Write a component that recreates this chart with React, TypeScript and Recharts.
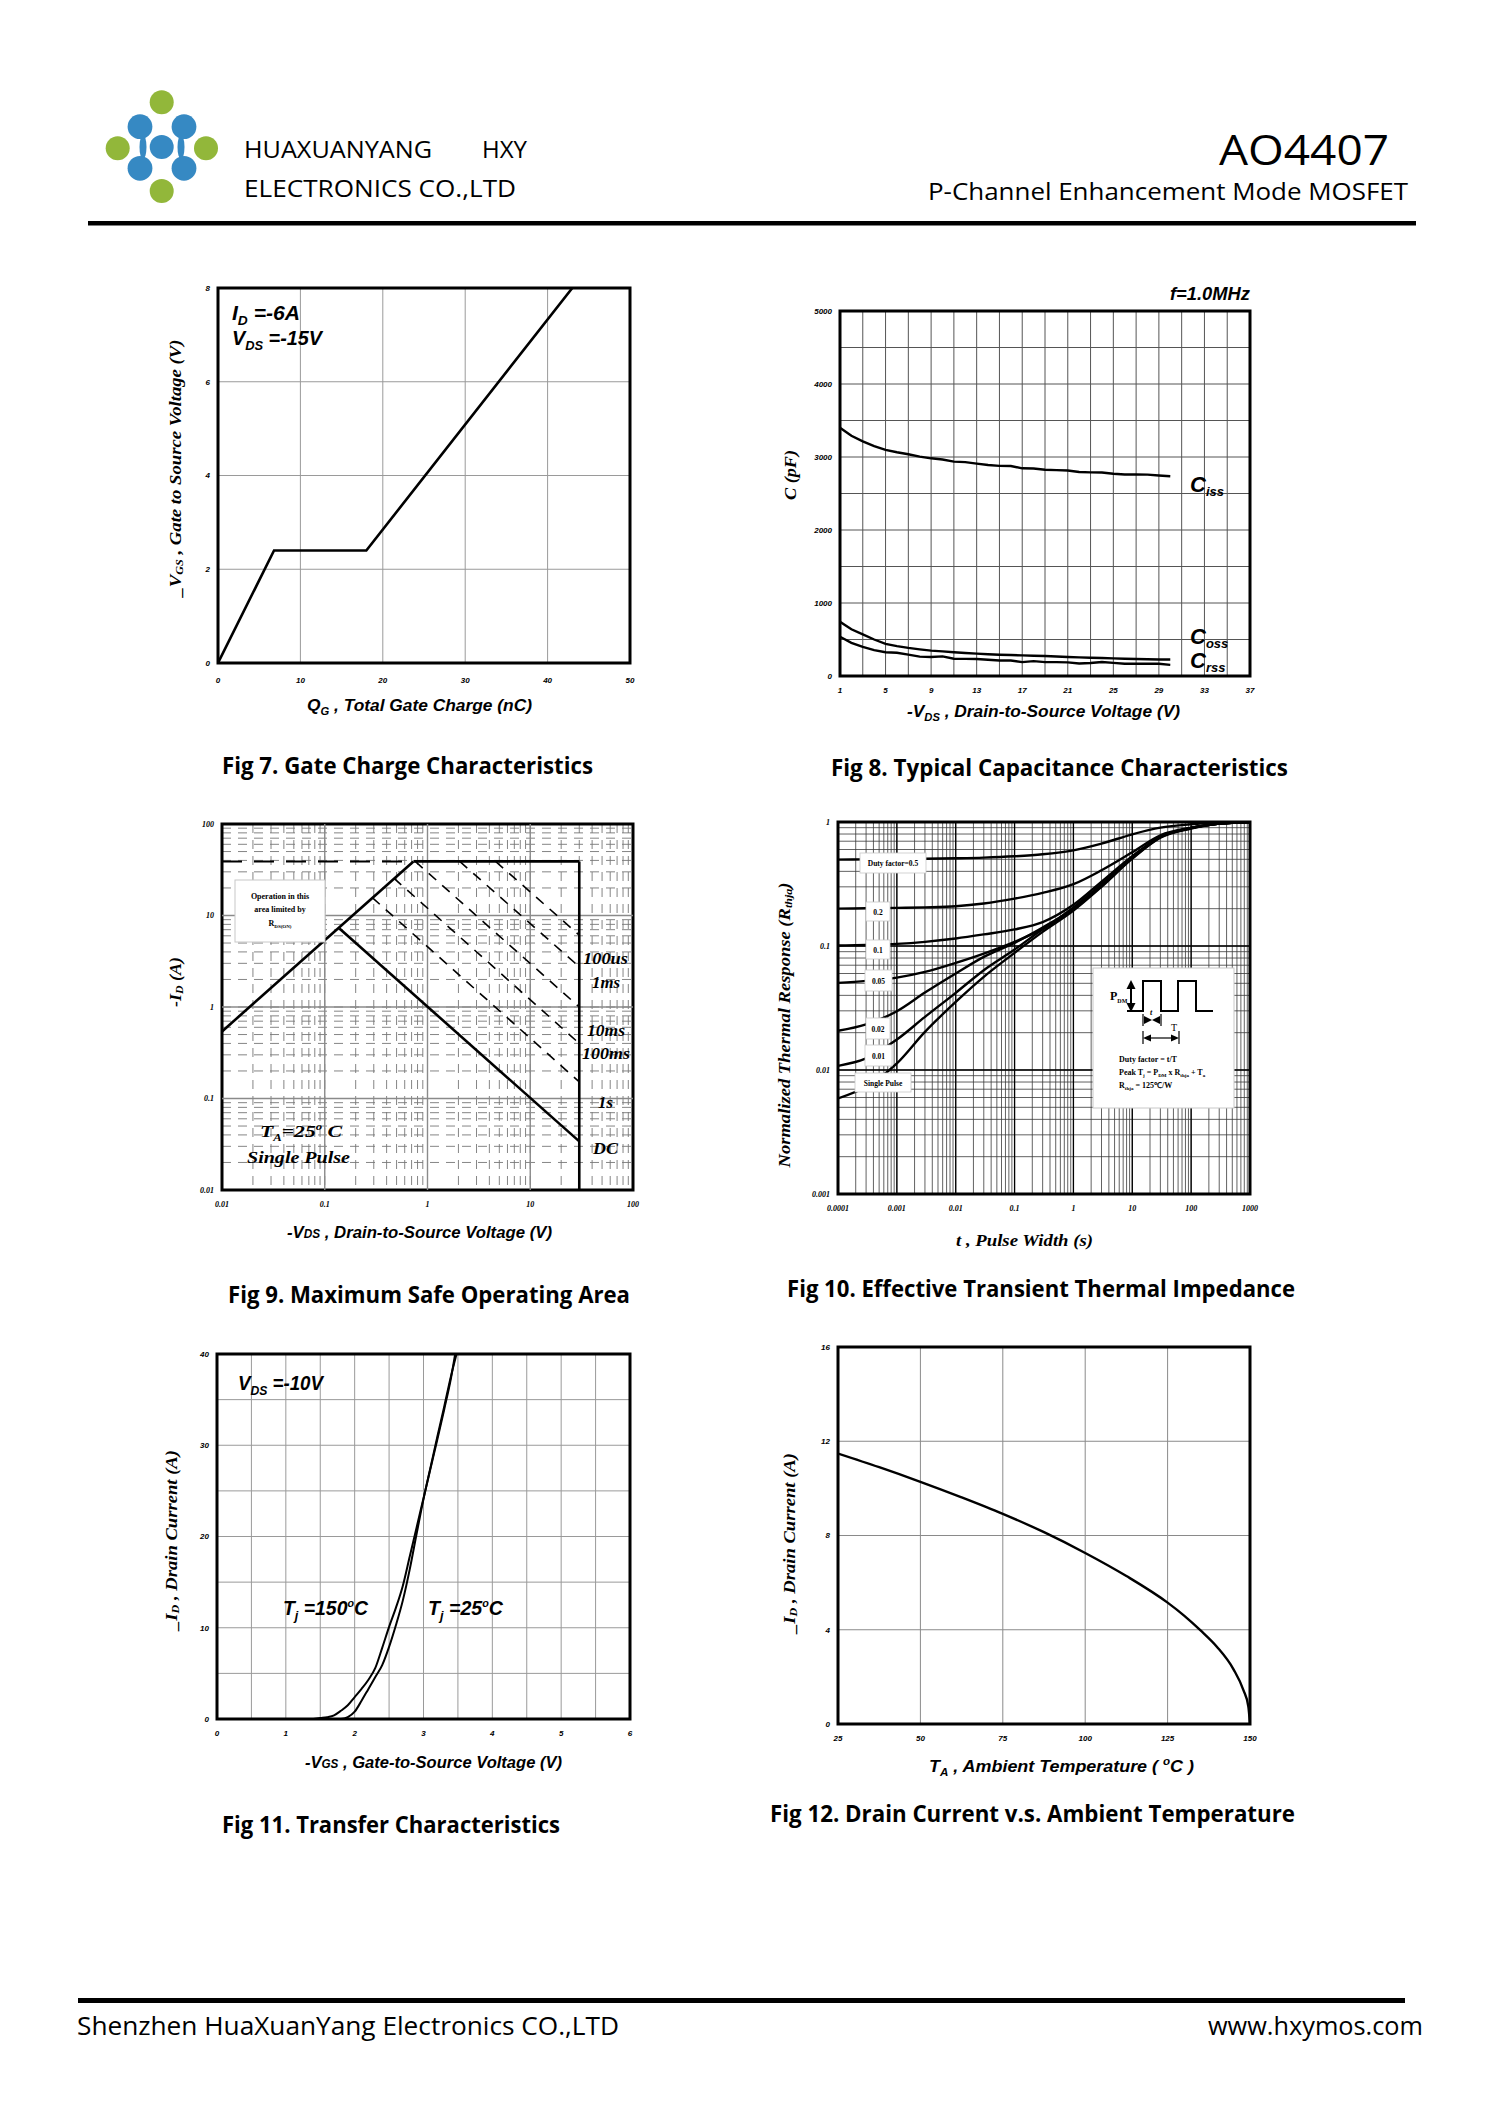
import React from 'react';
import { LineChart, Line, XAxis, YAxis, CartesianGrid, ReferenceLine, ReferenceArea } from 'recharts';

/* ---------- Fig 7: Gate charge ---------- */
const gateChargeQ = [0, 6.8, 18, 43];
const gateChargeVgs = [0, 2.4, 2.4, 8];
const gateXTicks = [0, 10, 20, 30, 40, 50];
const gateYTicks = [0, 2, 4, 6, 8];

/* ---------- Fig 8: Capacitance ---------- */
const capVds = [1, 2, 3, 4, 5, 6, 7, 8, 9, 10, 11, 12, 13, 14, 15, 16, 17, 18, 19, 20, 21, 22, 23, 24, 25, 26, 27, 28, 29, 30];
const capCiss = [3400, 3290, 3214, 3150, 3098, 3065, 3038, 3005, 2982, 2965, 2936, 2930, 2910, 2890, 2878, 2876, 2845, 2843, 2825, 2820, 2815, 2795, 2790, 2788, 2770, 2760, 2760, 2758, 2746, 2736];
const capCoss = [742, 640, 570, 500, 440, 410, 385, 365, 348, 338, 325, 315, 306, 298, 292, 287, 283, 278, 274, 267, 260, 255, 250, 246, 241, 236, 232, 230, 227, 227];
const capCrss = [538, 455, 399, 355, 325, 318, 292, 265, 260, 269, 237, 235, 232, 222, 213, 212, 190, 204, 190, 190, 186, 172, 178, 192, 180, 167, 167, 168, 167, 153];
const capXTicks = [1, 3, 5, 7, 9, 11, 13, 15, 17, 19, 21, 23, 25, 27, 29, 31, 33, 35, 37];
const capXLabels = [1, 5, 9, 13, 17, 21, 25, 29, 33, 37];
const capYTicks = [0, 500, 1000, 1500, 2000, 2500, 3000, 3500, 4000, 4500, 5000];
const capYLabels = [0, 1000, 2000, 3000, 4000, 5000];

/* ---------- Fig 9: Safe operating area ---------- */
const soaDecades = [0.01, 0.1, 1, 10, 100];
const soaDecadeLabels = ['0.01', '0.1', '1', '10', '100'];
const minorSteps = [2, 3, 4, 5, 6, 7, 8, 9];
const soaRdsV = [0.01, 0.73];
const soaRdsI = [0.54, 39];
const soaLimitDashV = [0.01, 0.73];
const soaLimitDashI = [39, 39];
const soaLimitV = [0.73, 30];
const soaLimitI = [39, 39];
const soaBvV = [30, 30];
const soaBvI = [39, 0.01];
const soaDcV = [0.139, 30];
const soaDcI = [7.2, 0.034];
const soa100usV = [4.6, 30];
const soa100usI = [39, 6.1];
const soa1msV = [2.06, 30];
const soa1msI = [39, 2.75];
const soa10msV = [0.76, 30];
const soa10msI = [39, 1.0];
const soa100msV = [0.47, 30];
const soa100msI = [25.6, 0.4];
const soa1sV = [0.29, 30];
const soa1sI = [15.7, 0.152];

/* ---------- Fig 10: Transient thermal impedance ---------- */
const tDecades = [0.0001, 0.001, 0.01, 0.1, 1, 10, 100, 1000];
const tDecadeLabels = ['0.0001', '0.001', '0.01', '0.1', '1', '10', '100', '1000'];
const rDecades = [0.001, 0.01, 0.1, 1];
const rDecadeLabels = ['0.001', '0.01', '0.1', '1'];
const tPulse = [0.0001, 0.0003, 0.001, 0.003, 0.01, 0.03, 0.1, 0.3, 1, 3, 10, 30, 100, 300, 1000];
const zDuty05 = [0.497, 0.5, 0.503, 0.506, 0.51, 0.516, 0.529, 0.549, 0.591, 0.669, 0.796, 0.9, 0.958, 0.988, 1.0];
const zDuty02 = [0.2, 0.2015, 0.203, 0.205, 0.209, 0.22, 0.241, 0.268, 0.315, 0.408, 0.57, 0.781, 0.9, 0.97, 1.0];
const zDuty01 = [0.101, 0.102, 0.104, 0.108, 0.115, 0.124, 0.136, 0.156, 0.215, 0.33, 0.53, 0.757, 0.895, 0.97, 1.0];
const zDuty005 = [0.0504, 0.0523, 0.0556, 0.0618, 0.0731, 0.0869, 0.108, 0.138, 0.205, 0.315, 0.522, 0.757, 0.895, 0.97, 1.0];
const zDuty002 = [0.0207, 0.0233, 0.0298, 0.0421, 0.06, 0.0817, 0.106, 0.141, 0.2, 0.308, 0.516, 0.757, 0.895, 0.97, 1.0];
const zDuty001 = [0.0108, 0.0124, 0.0176, 0.0268, 0.0419, 0.0638, 0.0936, 0.1365, 0.197, 0.305, 0.512, 0.755, 0.892, 0.97, 1.0];
const zSingle = [0.0059, 0.00732, 0.0113, 0.0203, 0.0354, 0.0564, 0.088, 0.13, 0.193, 0.3, 0.506, 0.748, 0.884, 0.97, 1.0];

/* ---------- Fig 11: Transfer ---------- */
const vgs150 = [1.4, 1.5, 1.6, 1.7, 1.8, 1.9, 2.0, 2.1, 2.2, 2.3, 2.4, 2.5, 2.6, 2.7, 2.8, 2.9, 3.0, 3.1, 3.2, 3.3, 3.4, 3.46];
const id150 = [0, 0.1, 0.2, 0.4, 0.9, 1.5, 2.4, 3.3, 4.3, 5.6, 7.8, 10.1, 12.2, 14.6, 17.8, 21.0, 24.2, 27.4, 30.6, 33.9, 37.4, 40];
const vgs25 = [1.4, 1.8, 1.9, 2.0, 2.1, 2.2, 2.3, 2.4, 2.5, 2.6, 2.7, 2.8, 2.9, 3.0, 3.1, 3.2, 3.3, 3.4, 3.48];
const id25 = [0, 0, 0.2, 0.8, 2.0, 3.3, 4.6, 5.9, 7.9, 10.3, 13.0, 16.4, 20.3, 24.1, 27.5, 30.9, 34.2, 37.6, 40];
const trXTicks = [0, 0.5, 1, 1.5, 2, 2.5, 3, 3.5, 4, 4.5, 5, 5.5, 6];
const trYTicks = [0, 5, 10, 15, 20, 25, 30, 35, 40];

/* ---------- Fig 12: Drain current vs ambient ---------- */
const ambientT = [25, 37.5, 50, 62.5, 75, 87.5, 100, 112.5, 125, 130, 135, 140, 145, 148, 149.5, 150];
const ambientId = [11.48, 10.9, 10.28, 9.62, 8.92, 8.14, 7.26, 6.28, 5.15, 4.6, 3.97, 3.27, 2.32, 1.44, 0.74, 0];
const ambXTicks = [25, 50, 75, 100, 125, 150];
const ambYTicks = [0, 4, 8, 12, 16];

/* ---------- helpers ---------- */
const pairs = (xs: number[], ys: number[]) => xs.map((x, i) => ({ x, y: ys[i] }));
const gridTicks = (decades: number[]) =>
  decades.flatMap((d, i) => (i < decades.length - 1 ? [d, ...minorSteps.map((m) => m * d)] : [d]));
const decadeFmt = (decades: number[], labels: string[]) => (v: number) => {
  const i = decades.indexOf(v);
  return i >= 0 ? labels[i] : '';
};

const SANS = "'Open Sans', 'Noto Sans', sans-serif";
const ARIAL = "'Liberation Sans', Arial, sans-serif";
const SERIF = "'Liberation Serif', 'Times New Roman', serif";

const sansTick = { fontSize: 8, fontStyle: 'italic', fontWeight: 700, fill: '#000', fontFamily: ARIAL };
const serifTick = { fontSize: 8, fontStyle: 'italic', fontWeight: 700, fill: '#000', fontFamily: SERIF };

type Frame = { L: number; T: number; R: number; B: number };
const F7: Frame = { L: 218, T: 288, R: 630, B: 663 };
const F8: Frame = { L: 840, T: 311, R: 1250, B: 676 };
const F9: Frame = { L: 222, T: 824, R: 633, B: 1190 };
const F10: Frame = { L: 838, T: 822, R: 1250, B: 1194 };
const F11: Frame = { L: 217, T: 1354, R: 630, B: 1719 };
const F12: Frame = { L: 838, T: 1347, R: 1250, B: 1724 };

const YW = 60;
const MT = 10;
const MR = 12;
const XH = 40;

function Panel({ f, children }: { f: Frame; children: React.ReactNode }) {
  const width = f.R - f.L + YW + MR;
  const height = f.B - f.T + MT + XH;
  return (
    <div style={{ position: 'absolute', left: f.L - YW, top: f.T - MT, width, height }}>
      <LineChart width={width} height={height} margin={{ top: MT, right: MR, bottom: 0, left: 0 }}>
        {children}
      </LineChart>
    </div>
  );
}

type TP = {
  x: number;
  y: number;
  size: number;
  len?: number;
  family?: string;
  weight?: number;
  italic?: boolean;
  anchor?: 'start' | 'middle' | 'end';
  rot?: boolean;
  children: React.ReactNode;
};
function T({ x, y, size, len, family = SANS, weight = 400, italic = false, anchor = 'start', rot = false, children }: TP) {
  const p: any = {
    x,
    y,
    fontSize: size,
    fontFamily: family,
    fontWeight: weight,
    fontStyle: italic ? 'italic' : 'normal',
    textAnchor: anchor,
    fill: '#000',
  };
  if (len) {
    p.textLength = len;
    p.lengthAdjust = 'spacingAndGlyphs';
  }
  if (rot) {
    p.transform = `rotate(-90 ${x} ${y})`;
    p.dominantBaseline = 'central';
  }
  return <text {...p}>{children}</text>;
}

const lineProps = { dot: false as const, isAnimationActive: false, stroke: '#000', dataKey: 'y' };

function Fig7() {
  return (
    <Panel f={F7}>
      <CartesianGrid stroke="#9a9a9a" strokeWidth={1} />
      <XAxis type="number" dataKey="x" domain={[0, 50]} ticks={gateXTicks} interval={0} tick={sansTick} tickLine={false} axisLine={false} tickSize={0} tickMargin={14} height={XH} allowDataOverflow />
      <YAxis type="number" domain={[0, 8]} ticks={gateYTicks} interval={0} tick={sansTick} tickLine={false} axisLine={false} tickSize={0} tickMargin={8} width={YW} allowDataOverflow />
      <Line {...lineProps} data={pairs(gateChargeQ, gateChargeVgs)} type="linear" strokeWidth={2.6} />
      <ReferenceArea x1={0} x2={50} y1={0} y2={8} fill="none" stroke="#000" strokeWidth={3} ifOverflow="visible" />
    </Panel>
  );
}

function Fig8() {
  return (
    <Panel f={F8}>
      <CartesianGrid stroke="#555" strokeWidth={1} />
      <XAxis type="number" dataKey="x" domain={[1, 37]} ticks={capXTicks} interval={0} tickFormatter={(v: number) => (capXLabels.includes(v) ? String(v) : '')} tick={sansTick} tickLine={false} axisLine={false} tickSize={0} tickMargin={11} height={XH} allowDataOverflow />
      <YAxis type="number" domain={[0, 5000]} ticks={capYTicks} interval={0} tickFormatter={(v: number) => (capYLabels.includes(v) ? String(v) : '')} tick={sansTick} tickLine={false} axisLine={false} tickSize={0} tickMargin={8} width={YW} allowDataOverflow />
      <Line {...lineProps} data={pairs(capVds, capCiss)} type="linear" strokeWidth={2.4} />
      <Line {...lineProps} data={pairs(capVds, capCoss)} type="linear" strokeWidth={2.4} />
      <Line {...lineProps} data={pairs(capVds, capCrss)} type="linear" strokeWidth={2.4} />
      <ReferenceArea x1={1} x2={37} y1={0} y2={5000} fill="none" stroke="#000" strokeWidth={3} ifOverflow="visible" />
    </Panel>
  );
}

function Fig9() {
  const ticks = gridTicks(soaDecades);
  const fmt = decadeFmt(soaDecades, soaDecadeLabels);
  return (
    <Panel f={F9}>
      <CartesianGrid stroke="#777" strokeWidth={0.9} strokeDasharray="9 7" />
      <XAxis type="number" dataKey="x" scale="log" domain={[0.01, 100]} ticks={ticks} interval={0} tickFormatter={fmt} tick={serifTick} tickLine={false} axisLine={false} tickSize={0} tickMargin={11} height={XH} allowDataOverflow />
      <YAxis type="number" scale="log" domain={[0.01, 100]} ticks={ticks} interval={0} tickFormatter={fmt} tick={serifTick} tickLine={false} axisLine={false} tickSize={0} tickMargin={8} width={YW} allowDataOverflow />
      {soaDecades.slice(1, -1).map((v) => (
        <ReferenceLine key={'vx' + v} x={v} stroke="#8a8a8a" strokeWidth={1.4} />
      ))}
      {soaDecades.slice(1, -1).map((v) => (
        <ReferenceLine key={'vy' + v} y={v} stroke="#8a8a8a" strokeWidth={1.4} />
      ))}
      <Line {...lineProps} data={pairs(soa100usV, soa100usI)} type="linear" strokeWidth={1.6} strokeDasharray="10 8" />
      <Line {...lineProps} data={pairs(soa1msV, soa1msI)} type="linear" strokeWidth={1.6} strokeDasharray="10 8" />
      <Line {...lineProps} data={pairs(soa10msV, soa10msI)} type="linear" strokeWidth={1.6} strokeDasharray="10 8" />
      <Line {...lineProps} data={pairs(soa100msV, soa100msI)} type="linear" strokeWidth={1.6} strokeDasharray="10 8" />
      <Line {...lineProps} data={pairs(soa1sV, soa1sI)} type="linear" strokeWidth={1.6} strokeDasharray="10 8" />
      <Line {...lineProps} data={pairs(soaLimitDashV, soaLimitDashI)} type="linear" strokeWidth={2} strokeDasharray="20 12" />
      <Line {...lineProps} data={pairs(soaLimitV, soaLimitI)} type="linear" strokeWidth={2.6} />
      <Line {...lineProps} data={pairs(soaBvV, soaBvI)} type="linear" strokeWidth={2.6} />
      <Line {...lineProps} data={pairs(soaRdsV, soaRdsI)} type="linear" strokeWidth={2.6} />
      <Line {...lineProps} data={pairs(soaDcV, soaDcI)} type="linear" strokeWidth={2.6} />
      <ReferenceArea x1={0.01} x2={100} y1={0.01} y2={100} fill="none" stroke="#000" strokeWidth={3} ifOverflow="visible" />
    </Panel>
  );
}

function Fig10() {
  const xt = gridTicks(tDecades);
  const yt = gridTicks(rDecades);
  const curves = [zDuty05, zDuty02, zDuty01, zDuty005, zDuty002, zDuty001, zSingle];
  return (
    <Panel f={F10}>
      <CartesianGrid stroke="#3a3a3a" strokeWidth={0.8} />
      <XAxis type="number" dataKey="x" scale="log" domain={[0.0001, 1000]} ticks={xt} interval={0} tickFormatter={decadeFmt(tDecades, tDecadeLabels)} tick={serifTick} tickLine={false} axisLine={false} tickSize={0} tickMargin={11} height={XH} allowDataOverflow />
      <YAxis type="number" scale="log" domain={[0.001, 1]} ticks={yt} interval={0} tickFormatter={decadeFmt(rDecades, rDecadeLabels)} tick={serifTick} tickLine={false} axisLine={false} tickSize={0} tickMargin={8} width={YW} allowDataOverflow />
      {tDecades.slice(1, -1).map((v) => (
        <ReferenceLine key={'tx' + v} x={v} stroke="#000" strokeWidth={1.3} />
      ))}
      {rDecades.slice(1, -1).map((v) => (
        <ReferenceLine key={'ry' + v} y={v} stroke="#000" strokeWidth={1.3} />
      ))}
      {curves.map((c, i) => (
        <Line key={'z' + i} {...lineProps} data={pairs(tPulse, c)} type="monotone" strokeWidth={2.4} />
      ))}
      <ReferenceArea x1={0.0001} x2={1000} y1={0.001} y2={1} fill="none" stroke="#000" strokeWidth={3} ifOverflow="visible" />
    </Panel>
  );
}

function Fig11() {
  return (
    <Panel f={F11}>
      <CartesianGrid stroke="#9a9a9a" strokeWidth={1} />
      <XAxis type="number" dataKey="x" domain={[0, 6]} ticks={trXTicks} interval={0} tickFormatter={(v: number) => (Number.isInteger(v) ? String(v) : '')} tick={sansTick} tickLine={false} axisLine={false} tickSize={0} tickMargin={11} height={XH} allowDataOverflow />
      <YAxis type="number" domain={[0, 40]} ticks={trYTicks} interval={0} tickFormatter={(v: number) => (v % 10 === 0 ? String(v) : '')} tick={sansTick} tickLine={false} axisLine={false} tickSize={0} tickMargin={8} width={YW} allowDataOverflow />
      <Line {...lineProps} data={pairs(vgs150, id150)} type="monotone" strokeWidth={2} />
      <Line {...lineProps} data={pairs(vgs25, id25)} type="monotone" strokeWidth={2} />
      <ReferenceArea x1={0} x2={6} y1={0} y2={40} fill="none" stroke="#000" strokeWidth={3} ifOverflow="visible" />
    </Panel>
  );
}

function Fig12() {
  return (
    <Panel f={F12}>
      <CartesianGrid stroke="#8a8a8a" strokeWidth={1} />
      <XAxis type="number" dataKey="x" domain={[25, 150]} ticks={ambXTicks} interval={0} tick={sansTick} tickLine={false} axisLine={false} tickSize={0} tickMargin={11} height={XH} allowDataOverflow />
      <YAxis type="number" domain={[0, 16]} ticks={ambYTicks} interval={0} tick={sansTick} tickLine={false} axisLine={false} tickSize={0} tickMargin={8} width={YW} allowDataOverflow />
      <Line {...lineProps} data={pairs(ambientT, ambientId)} type="monotone" strokeWidth={2.4} />
      <ReferenceArea x1={25} x2={150} y1={0} y2={16} fill="none" stroke="#000" strokeWidth={3} ifOverflow="visible" />
    </Panel>
  );
}

const GREEN = '#92B73A';
const BLUE = '#3689C3';

function Overlay() {
  const labelBoxes = [
    { x: 860, y: 853, w: 66, h: 20, t: 'Duty factor=0.5' },
    { x: 866, y: 902, w: 24, h: 19, t: '0.2' },
    { x: 866, y: 940, w: 24, h: 19, t: '0.1' },
    { x: 865, y: 970, w: 27, h: 21, t: '0.05' },
    { x: 866, y: 1018, w: 24, h: 21, t: '0.02' },
    { x: 865, y: 1045, w: 27, h: 21, t: '0.01' },
    { x: 855, y: 1073, w: 56, h: 19, t: 'Single  Pulse' },
  ];
  return (
    <svg width={1487} height={2105} style={{ position: 'absolute', left: 0, top: 0, pointerEvents: 'none' }}>
      {/* Header logo */}
      <ellipse cx={143} cy={147} rx={3.5} ry={12} fill={BLUE} />
      <ellipse cx={181} cy={147} rx={3.5} ry={12} fill={BLUE} />
      <circle cx={140} cy={126.7} r={12.4} fill={BLUE} />
      <circle cx={184} cy={126.7} r={12.4} fill={BLUE} />
      <circle cx={161.7} cy={147} r={12} fill={BLUE} />
      <circle cx={140} cy={168.3} r={12.4} fill={BLUE} />
      <circle cx={184} cy={168.3} r={12.4} fill={BLUE} />
      <circle cx={161.7} cy={102.3} r={12} fill={GREEN} />
      <circle cx={117.7} cy={148.3} r={12} fill={GREEN} />
      <circle cx={206} cy={148.3} r={12} fill={GREEN} />
      <circle cx={161.7} cy={191} r={12} fill={GREEN} />

      <T x={244} y={158} size={24} len={188}>HUAXUANYANG</T>
      <T x={482} y={158} size={24} len={45}>HXY</T>
      <T x={244} y={197} size={24} len={272}>ELECTRONICS CO.,LTD</T>
      <T x={1219} y={165} size={42} len={170}>AO4407</T>
      <T x={928} y={200} size={24} len={480}>P-Channel Enhancement Mode MOSFET</T>
      <rect x={88} y={221} width={1328} height={4.5} fill="#000" />

      {/* Footer */}
      <rect x={78} y={1998} width={1327} height={5} fill="#000" />
      <T x={77} y={2035} size={25} len={542}>Shenzhen HuaXuanYang Electronics CO.,LTD</T>
      <T x={1208} y={2035} size={25} len={215}>www.hxymos.com</T>

      {/* Fig 7 */}
      <T x={232} y={320} size={20} len={68} family={ARIAL} italic weight={600}>
        I<tspan dy={5} fontSize={13}>D</tspan><tspan dy={-5}> =-6A</tspan>
      </T>
      <T x={232} y={345} size={20} len={90} family={ARIAL} italic weight={600}>
        V<tspan dy={5} fontSize={13}>DS</tspan><tspan dy={-5}> =-15V</tspan>
      </T>
      <T x={307} y={711} size={17} len={225} family={ARIAL} italic weight={600}>
        Q<tspan dy={4} fontSize={11}>G</tspan><tspan dy={-4}>  , Total Gate Charge (nC)</tspan>
      </T>
      <T x={175} y={468} size={17} len={257} family={SERIF} italic weight={700} anchor="middle" rot>
        _V<tspan dy={4} fontSize={11}>GS</tspan><tspan dy={-4}> , Gate to Source Voltage (V)</tspan>
      </T>
      <T x={222} y={774} size={23} len={371} weight={700}>Fig 7. Gate Charge Characteristics</T>

      {/* Fig 8 */}
      <T x={1170} y={300} size={19} len={80} family={ARIAL} italic weight={600}>f=1.0MHz</T>
      <T x={1190} y={492} size={22} family={ARIAL} italic weight={600}>
        C<tspan dy={4} fontSize={13}>iss</tspan>
      </T>
      <T x={1190} y={644} size={22} family={ARIAL} italic weight={600}>
        C<tspan dy={4} fontSize={13}>oss</tspan>
      </T>
      <T x={1190} y={668} size={22} family={ARIAL} italic weight={600}>
        C<tspan dy={4} fontSize={13}>rss</tspan>
      </T>
      <T x={907} y={717} size={17} len={273} family={ARIAL} italic weight={600}>
        -V<tspan dy={4} fontSize={11}>DS</tspan><tspan dy={-4}>  , Drain-to-Source Voltage (V)</tspan>
      </T>
      <T x={790} y={475} size={16} len={50} family={SERIF} italic weight={700} anchor="middle" rot>C (pF)</T>
      <T x={831} y={776} size={23} len={457} weight={700}>Fig 8. Typical Capacitance Characteristics</T>

      {/* Fig 9 */}
      <rect x={235} y={880} width={90} height={62} fill="#fff" stroke="#c8c8c8" strokeWidth={1} />
      <T x={280} y={899} size={8} family={SERIF} weight={700} anchor="middle">Operation in this</T>
      <T x={280} y={912} size={8} family={SERIF} weight={700} anchor="middle">area limited by</T>
      <T x={280} y={926} size={8} family={SERIF} weight={700} anchor="middle">
        R<tspan dy={2} fontSize={5}>DS(ON)</tspan>
      </T>
      <T x={260} y={1137} size={17} len={82} family={SERIF} italic weight={700}>
        T<tspan dy={4} fontSize={10}>A</tspan><tspan dy={-4}>=25</tspan><tspan dy={-7} fontSize={10}>o</tspan><tspan dy={7}> C</tspan>
      </T>
      <T x={247} y={1163} size={17} len={103} family={SERIF} italic weight={700}>Single  Pulse</T>
      <T x={583} y={964} size={17} len={45} family={SERIF} italic weight={700}>100us</T>
      <T x={592} y={988} size={17} len={28} family={SERIF} italic weight={700}>1ms</T>
      <T x={587} y={1036} size={17} len={38} family={SERIF} italic weight={700}>10ms</T>
      <T x={582} y={1059} size={17} len={48} family={SERIF} italic weight={700}>100ms</T>
      <T x={598} y={1108} size={17} len={15} family={SERIF} italic weight={700}>1s</T>
      <T x={593} y={1154} size={17} len={25} family={SERIF} italic weight={700}>DC</T>
      <T x={175} y={982} size={17} len={50} family={SERIF} italic weight={700} anchor="middle" rot>
        -I<tspan dy={4} fontSize={11}>D</tspan><tspan dy={-4}> (A)</tspan>
      </T>
      <T x={287} y={1238} size={17} len={265} family={ARIAL} italic weight={600}>
        -V<tspan fontSize={12}>DS</tspan> , Drain-to-Source Voltage (V)
      </T>
      <T x={228} y={1303} size={23} len={402} weight={700}>Fig 9. Maximum Safe Operating Area</T>

      {/* Fig 10 */}
      {labelBoxes.map((b) => (
        <g key={b.t}>
          <rect x={b.x} y={b.y} width={b.w} height={b.h} fill="#fff" stroke="#c8c8c8" strokeWidth={0.8} />
          <T x={b.x + b.w / 2} y={b.y + b.h / 2 + 3} size={7.5} family={SERIF} weight={700} anchor="middle">{b.t}</T>
        </g>
      ))}
      <rect x={1093} y={968} width={141} height={140} fill="#fff" stroke="#c8c8c8" strokeWidth={1} />
      <T x={1110} y={1000} size={12} family={SERIF} weight={700}>
        P<tspan dy={3} fontSize={6}>DM</tspan>
      </T>
      <line x1={1131} y1={984} x2={1131} y2={1008} stroke="#000" strokeWidth={2} />
      <polygon points="1131,980 1126.5,989 1135.5,989" fill="#000" />
      <polygon points="1131,1012 1126.5,1003 1135.5,1003" fill="#000" />
      <polyline points="1127,1011 1143,1011 1143,981 1161,981 1161,1011 1178,1011 1178,981 1196,981 1196,1011 1213,1011" fill="none" stroke="#000" strokeWidth={2} />
      <line x1={1143} y1={1014} x2={1143} y2={1026} stroke="#000" strokeWidth={1.2} />
      <line x1={1161} y1={1014} x2={1161} y2={1026} stroke="#000" strokeWidth={1.2} />
      <polygon points="1152,1020 1144,1016 1144,1024" fill="#000" />
      <polygon points="1152,1020 1160,1016 1160,1024" fill="#000" />
      <T x={1150} y={1015} size={8} family={SERIF} italic weight={700}>t</T>
      <line x1={1143} y1={1031} x2={1143} y2={1044} stroke="#000" strokeWidth={1.2} />
      <line x1={1179} y1={1031} x2={1179} y2={1044} stroke="#000" strokeWidth={1.2} />
      <line x1={1146} y1={1038} x2={1176} y2={1038} stroke="#000" strokeWidth={1.2} />
      <polygon points="1143,1038 1151,1034.5 1151,1041.5" fill="#000" />
      <polygon points="1179,1038 1171,1034.5 1171,1041.5" fill="#000" />
      <T x={1171} y={1031} size={10} family={SERIF}>T</T>
      <T x={1119} y={1062} size={8} family={SERIF} weight={700}>Duty factor = t/T</T>
      <T x={1119} y={1075} size={8} family={SERIF} weight={700}>
        Peak T<tspan dy={2} fontSize={5}>j</tspan><tspan dy={-2}> = P</tspan><tspan dy={2} fontSize={5}>DM</tspan><tspan dy={-2}> x R</tspan><tspan dy={2} fontSize={5}>thja</tspan><tspan dy={-2}> + T</tspan><tspan dy={2} fontSize={5}>a</tspan>
      </T>
      <T x={1119} y={1088} size={8} family={SERIF} weight={700}>
        R<tspan dy={2} fontSize={5}>thja</tspan><tspan dy={-2}> = 125℃/W</tspan>
      </T>
      <T x={784} y={1025} size={17} len={285} family={SERIF} italic weight={700} anchor="middle" rot>
        Normalized Thermal Response (R<tspan dy={4} fontSize={11}>thja</tspan><tspan dy={-4}>)</tspan>
      </T>
      <T x={956} y={1246} size={17} len={137} family={SERIF} italic weight={700}>t , Pulse Width (s)</T>
      <T x={787} y={1297} size={23} len={508} weight={700}>Fig 10. Effective Transient Thermal Impedance</T>

      {/* Fig 11 */}
      <T x={238} y={1390} size={20} len={85} family={ARIAL} italic weight={600}>
        V<tspan dy={5} fontSize={13}>DS</tspan><tspan dy={-5}> =-10V</tspan>
      </T>
      <T x={283} y={1615} size={20} len={85} family={ARIAL} italic weight={600}>
        T<tspan dy={5} fontSize={13}>j</tspan><tspan dy={-5}> =150</tspan><tspan dy={-8} fontSize={11}>o</tspan><tspan dy={8}>C</tspan>
      </T>
      <T x={428} y={1615} size={20} len={75} family={ARIAL} italic weight={600}>
        T<tspan dy={5} fontSize={13}>j</tspan><tspan dy={-5}> =25</tspan><tspan dy={-8} fontSize={11}>o</tspan><tspan dy={8}>C</tspan>
      </T>
      <T x={305} y={1768} size={17} len={257} family={ARIAL} italic weight={600}>
        -V<tspan fontSize={12}>GS</tspan> , Gate-to-Source Voltage (V)
      </T>
      <T x={171} y={1540} size={17} len={180} family={SERIF} italic weight={700} anchor="middle" rot>
        _I<tspan dy={4} fontSize={11}>D</tspan><tspan dy={-4}> , Drain Current (A)</tspan>
      </T>
      <T x={222} y={1833} size={23} len={338} weight={700}>Fig 11. Transfer Characteristics</T>

      {/* Fig 12 */}
      <T x={929} y={1772} size={17} len={265} family={ARIAL} italic weight={600}>
        T<tspan dy={4} fontSize={11}>A</tspan><tspan dy={-4}>  , Ambient Temperature (  </tspan><tspan dy={-7} fontSize={11}>o</tspan><tspan dy={7}>C )</tspan>
      </T>
      <T x={789} y={1543} size={17} len={180} family={SERIF} italic weight={700} anchor="middle" rot>
        _I<tspan dy={4} fontSize={11}>D</tspan><tspan dy={-4}> , Drain Current (A)</tspan>
      </T>
      <T x={770} y={1822} size={23} len={525} weight={700}>Fig 12. Drain Current v.s. Ambient Temperature</T>
    </svg>
  );
}

export default function App() {
  return (
    <div style={{ position: 'absolute', left: 0, top: 0, width: 1487, height: 2105, background: '#fff', overflow: 'hidden' }}>
      <Fig7 />
      <Fig8 />
      <Fig9 />
      <Fig10 />
      <Fig11 />
      <Fig12 />
      <Overlay />
    </div>
  );
}
